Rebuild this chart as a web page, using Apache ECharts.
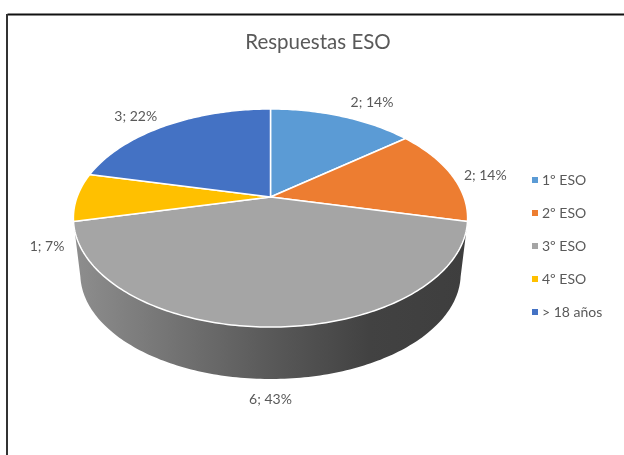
<!DOCTYPE html>
<html>
<head>
<meta charset="utf-8">
<style>
  html, body { margin: 0; padding: 0; background: #fff; }
  #chart { width: 624px; height: 455px; }
</style>
<script src="https://cdn.jsdelivr.net/npm/echarts@6/dist/echarts.min.js"></script>
</head>
<body>
<div id="chart"></div>
<script>
const categories = ['1º ESO', '2º ESO', '3º ESO', '4º ESO', '> 18 años']
const values = [2, 2, 6, 1, 3]
const percents = [14, 14, 43, 7, 22]

const colors = ['#5b9bd5', '#ed7d31', '#a5a5a5', '#ffc000', '#4472c4']
const labelShift = [[30, -14], [34, 1], [0, 20], [-30, 49], [-30, -9]]
const textColor = '#595959'
const font = 'Lato'

// pie seen in perspective, fitted on the reference
const cx = 270.5
const cy = 197
const fx = 193.4
const fy = 105
const persp = 0.1927
const wallDrop = 56.5
const wallScale = 0.965
const wallFrom = 102
const wallTo = 258

const total = values.reduce((a, b) => a + b, 0)

function project (deg, r = 1) {
  const t = deg * Math.PI / 180
  const X = r * Math.sin(t)
  const Z = r * Math.cos(t)
  const d = 1 + persp * Z
  return [cx + fx * X / d, cy - fy * Z / d]
}

function rim (from, to, lower) {
  const pts = []
  const n = Math.max(2, Math.ceil(to - from))
  for (let i = 0; i <= n; i++) {
    const deg = from + (to - from) * i / n
    const p = project(deg)
    pts.push(lower
      ? [cx + (p[0] - cx) * wallScale, cy + wallDrop + (p[1] - cy) * wallScale]
      : p)
  }
  return pts
}

function sliceRange (idx) {
  const before = values.slice(0, idx).reduce((a, b) => a + b, 0)
  return [before / total * 360, (before + values[idx]) / total * 360]
}

function renderSlice (idx) {
  return function () {
    const [from, to] = sliceRange(idx)
    const mid = (from + to) / 2
    const children = []

    // side wall, only where the slice faces the viewer
    const a = Math.max(from, wallFrom)
    const b = Math.min(to, wallTo)
    if (b - a > 1) {
      children.push({
        type: 'polygon',
        z2: 1,
        shape: { points: rim(a, b, false).concat(rim(a, b, true).reverse()) },
        style: {
          fill: new echarts.graphic.LinearGradient(0, 0, 1, 0, [
            { offset: 0, color: '#8e8e8e' },
            { offset: 0.5, color: '#595959' },
            { offset: 0.75, color: '#424242' },
            { offset: 1, color: '#3e3e3e' }
          ])
        }
      })
    }

    // top face
    children.push({
      type: 'polygon',
      z2: 2,
      shape: { points: [[cx, cy]].concat(rim(from, to, false)) },
      style: { fill: colors[idx], stroke: '#fff', lineWidth: 1.5, lineJoin: 'round' }
    })

    // data label, anchored on the rim of the slice
    const anchor = mid > wallFrom && mid < wallTo && to - from > 90
      ? rim(mid, mid + 1, true)[0]
      : project(mid)
    children.push({
      type: 'text',
      z2: 3,
      style: {
        x: anchor[0] + labelShift[idx][0],
        y: anchor[1] + labelShift[idx][1],
        text: values[idx] + '; ' + percents[idx] + '%',
        fill: textColor,
        font: '14px ' + font,
        align: 'center',
        verticalAlign: 'middle'
      }
    })

    return { type: 'group', children }
  }
}

const chart = echarts.init(document.getElementById('chart'))

chart.setOption({
  animation: false,
  backgroundColor: '#fff',
  title: {
    text: 'Respuestas ESO',
    left: 313,
    top: 27,
    textAlign: 'center',
    textStyle: { color: textColor, fontFamily: font, fontSize: 20.5, fontWeight: 'normal' }
  },
  legend: {
    orient: 'vertical',
    left: 527,
    top: 166,
    icon: 'rect',
    itemWidth: 6,
    itemHeight: 6,
    itemGap: 15,
    textStyle: { color: textColor, fontFamily: font, fontSize: 14, padding: [0, 0, 0, -1], height: 18, lineHeight: 18 },
    data: categories
  },
  graphic: [
    { type: 'line', shape: { x1: 7.5, y1: 14.5, x2: 624, y2: 14.5 }, style: { stroke: '#111', lineWidth: 2 } },
    { type: 'line', shape: { x1: 7, y1: 14, x2: 7, y2: 455 }, style: { stroke: '#333', lineWidth: 2 } }
  ],
  series: categories.map((name, i) => ({
    name,
    type: 'custom',
    coordinateSystem: 'none',
    silent: true,
    itemStyle: { color: colors[i] },
    data: [values[i]],
    renderItem: renderSlice(i)
  }))
})
</script>
</body>
</html>
